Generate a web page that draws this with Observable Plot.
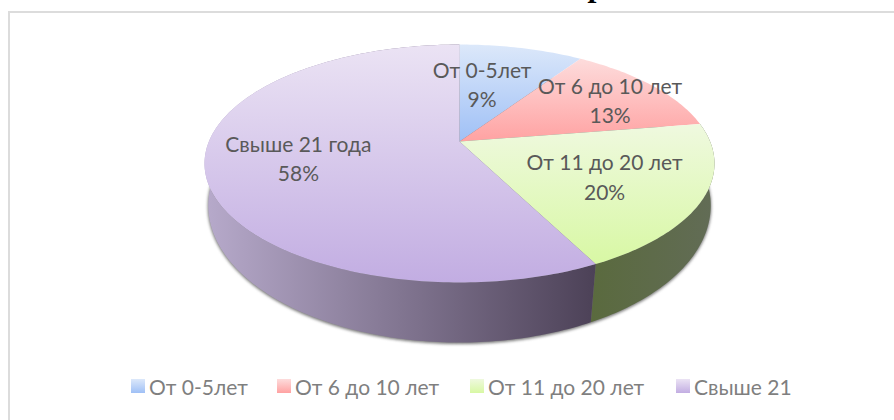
<!DOCTYPE html>
<html lang="ru">
<head>
<meta charset="utf-8">
<script src="https://cdn.jsdelivr.net/npm/d3@7"></script>
<script src="https://cdn.jsdelivr.net/npm/@observablehq/plot@0.6"></script>
<style>
  html, body { margin: 0; padding: 0; background: #fff; }
  #page { position: relative; width: 894px; height: 420px; overflow: hidden; font-family: Lato, "Noto Sans", sans-serif; }
  #frame { position: absolute; left: 8px; top: 11px; right: -4px; bottom: -4px; border-top: 2px solid #dcdcdc; border-left: 2px solid #dcdcdc; }
  #title { position: absolute; left: 590px; top: -33px; font: italic bold 32px "Liberation Serif", serif; color: #000; line-height: 36px; }
  #chart { position: absolute; left: 0; top: 0; }
  #chart svg { display: block; }
  #legend { position: absolute; left: 0; top: 371px; width: 894px; height: 30px; }
  #legend .item { position: absolute; top: 0; height: 30px; display: flex; align-items: center; font-size: 21px; color: #7f7f7f; white-space: nowrap; }
  #legend .swatch { width: 14px; height: 14px; margin-right: 4px; }
</style>
</head>
<body>
<div id="page">
  <div id="frame"></div>
  <div id="title">р</div>
  <div id="chart"></div>
  <div id="legend"></div>
</div>
<script>
// Data
const categories = ["От 0-5лет", "От 6 до 10 лет", "От 11 до 20 лет", "Свыше 21 года"];
const legendLabels = ["От 0-5лет", "От 6 до 10 лет", "От 11 до 20 лет", "Свыше 21"];
const shares = [9.4, 13.1, 20.0, 57.5];
const topColors = [["#dce8fa", "#9fc0f6"], ["#fddcdc", "#ffa2a2"], ["#eff9df", "#d8f8a4"], ["#ebe3f4", "#c2ade2"]];
const sideColors = [["#6b7f9c", "#6b7f9c"], ["#8c6060", "#8c6060"], ["#5a6a3e", "#626c56"], ["#b7aacb", "#4c4157"]];

// Layout of the tilted disc and of the labels
const W = 894, H = 372, CX = 459;
const topDisc = {y0: 141, rx: 250.6, ry: 114.9, k: 0.1849};
const baseDisc = {y0: 183.1, rx: 248, ry: 133.5, k: 0.16};
const labelNudge = [[-17, 1], [31, -7.5], [4, 1], [-11, -1]];
const legendLeft = [131, 277, 470, 676];

// Angle (deg clockwise from 12 o'clock) to picture position through a perspective tilt
function project(disc, deg, r = 1) {
  const a = deg * Math.PI / 180;
  const u = r * Math.sin(a), v = -r * Math.cos(a), d = 1 - disc.k * v;
  return {x: CX + disc.rx * u / d, y: disc.y0 + disc.ry * v / d};
}
function arc(disc, from, to) {
  const n = Math.max(2, Math.ceil(Math.abs(to - from)));
  return d3.range(n + 1).map(i => project(disc, from + (to - from) * i / n));
}

let cum = 0;
const slices = shares.map((s, i) => {
  const from = cum * 3.6; cum += s; const to = cum * 3.6;
  return {i, name: categories[i], share: s, from, to, mid: (from + to) / 2};
});

function sliceOutline(s) {
  return [project(topDisc, 0, 0), ...arc(topDisc, s.from, s.to)];
}
function sideOutline(s) {
  return [...arc(topDisc, s.from, s.to), ...arc(baseDisc, s.to, s.from)];
}

function gradient(id, stops, horizontal) {
  const g = d3.create("svg:linearGradient").attr("id", id)
    .attr("x1", 0).attr("y1", 0).attr("x2", horizontal ? 1 : 0).attr("y2", horizontal ? 0 : 1);
  g.append("stop").attr("offset", "0%").attr("stop-color", stops[0]);
  g.append("stop").attr("offset", "100%").attr("stop-color", stops[1]);
  return g.node();
}
const defs = () => {
  const d = d3.create("svg:defs");
  slices.forEach(s => {
    d.append(() => gradient(`top${s.i}`, topColors[s.i], false));
    d.append(() => gradient(`side${s.i}`, sideColors[s.i], true));
  });
  return d.node();
};

const labels = slices.map(s => {
  const p = project(topDisc, s.mid, 0.6);
  return {x: p.x + labelNudge[s.i][0], y: p.y + labelNudge[s.i][1], text: `${s.name}\n${Math.round(s.share)}%`};
});

const xy = {x: "x", y: "y"};
const sides = slices.filter(s => s.i >= 2);
const chart = Plot.plot({
  width: W, height: H, margin: 0,
  x: {domain: [0, W], range: [0, W], axis: null},
  y: {domain: [0, H], range: [0, H], axis: null},
  style: {background: "transparent", overflow: "visible"},
  marks: [
    defs,
    Plot.line(arc(baseDisc, 0, 360).map(p => ({x: p.x, y: p.y + 1})), {...xy, fill: "#777", stroke: "#777", strokeWidth: 1, imageFilter: "blur(1.5px)"}),
    ...sides.map(s => Plot.line(sideOutline(s), {...xy, fill: `url(#side${s.i})`, stroke: "none"})),
    ...slices.map(s => Plot.line(sliceOutline(s), {...xy, fill: `url(#top${s.i})`, stroke: "none"})),
    Plot.text(labels, {x: "x", y: "y", text: "text", fontSize: 21, lineHeight: 1.4, fill: "#595959", fontFamily: "Lato, 'Noto Sans', sans-serif"})
  ]
});
document.getElementById("chart").append(chart);

const legend = d3.select("#legend");
legendLabels.forEach((t, i) => {
  const item = legend.append("div").attr("class", "item").style("left", legendLeft[i] + "px");
  item.append("div").attr("class", "swatch").style("background", `linear-gradient(${topColors[i][0]}, ${topColors[i][1]})`);
  item.append("span").text(t);
});
</script>
</body>
</html>
